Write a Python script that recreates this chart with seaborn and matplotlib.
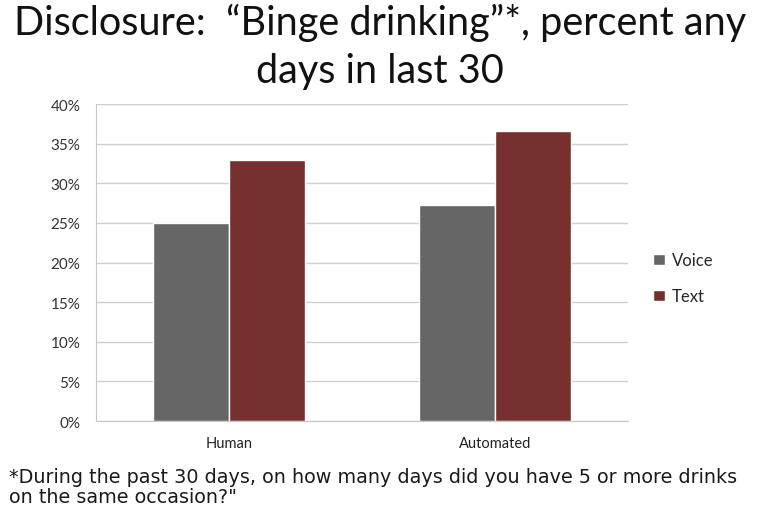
import pandas as pd
import seaborn as sns
import matplotlib.pyplot as plt
from matplotlib.ticker import PercentFormatter, FixedLocator

# data
categories = ['Human', 'Automated']
voice = [25.0, 27.3]
text = [32.9, 36.6]
series = ['Voice', 'Text']

df = pd.DataFrame({
    'Mode': categories * 2,
    'Series': ['Voice'] * 2 + ['Text'] * 2,
    'Percent': voice + text,
})

sns.set_style('white')
plt.rcParams['font.family'] = ['Lato', 'DejaVu Sans']

fig = plt.figure(figsize=(7.6, 5.1), dpi=100)
ax = fig.add_axes([0.126, 0.1725, 0.700, 0.6215])

sns.barplot(data=df, x='Mode', y='Percent', hue='Series', hue_order=series,
            palette=['#666666', '#76302D'], width=0.57, gap=0,
            saturation=1, errorbar=None, ax=ax)

ax.set_ylim(0, 40)
ax.set_xlim(-0.5, 1.5)
ax.set_yticks(range(0, 41, 5))
ax.yaxis.set_major_formatter(PercentFormatter(decimals=0))
ax.yaxis.grid(True, color='#d0d0d0', linewidth=1)
ax.set_axisbelow(True)
ax.set_xlabel('')
ax.set_ylabel('')
ax.tick_params(axis='y', labelsize=11, colors='#333333', length=5, width=1, direction='out', color='#c8c8c8', pad=6)
ax.tick_params(axis='x', labelsize=10.5, colors='#222222', length=0, pad=11)
ax.xaxis.set_minor_locator(FixedLocator([-0.5, 0.5, 1.5]))
ax.tick_params(axis='x', which='minor', length=5, color='#c8c8c8', direction='out')
for s in ['top', 'right']:
    ax.spines[s].set_visible(False)
for s in ['left', 'bottom']:
    ax.spines[s].set_color('#c8c8c8')

ax.legend(loc='center left', bbox_to_anchor=(1.02, 0.45), frameon=False,
          fontsize=12, handlelength=0.7, handleheight=0.7, handletextpad=0.4,
          labelspacing=1.2)

fig.text(0.5, 0.955, 'Disclosure:  \u201cBinge drinking\u201d*, percent any', ha='center', va='center', fontsize=28.5, color='#111111')
fig.text(0.5, 0.86, 'days in last 30', ha='center', va='center', fontsize=28.5, color='#111111')
fig.text(0.012, 0.064, '*During the past 30 days, on how many days did you have 5 or more drinks',
         ha='left', va='center', fontsize=13.8, color='#1a1a1a', family='DejaVu Sans')
fig.text(0.012, 0.025, 'on the same occasion?"',
         ha='left', va='center', fontsize=13.8, color='#1a1a1a', family='DejaVu Sans')

fig.savefig('out.png', dpi=100)
